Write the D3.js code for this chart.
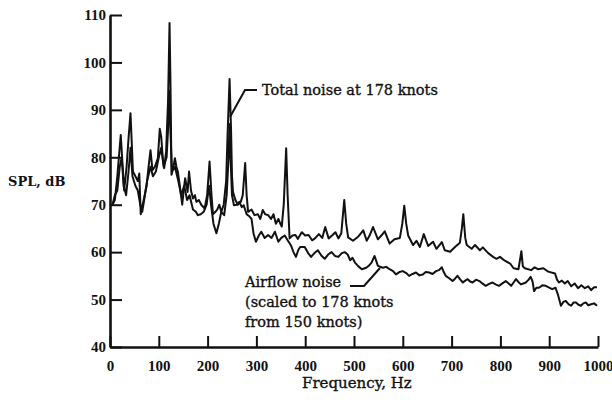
<!DOCTYPE html>
<html><head><meta charset="utf-8">
<script src="https://cdn.jsdelivr.net/npm/d3@7"></script>
<style>
html,body{margin:0;padding:0;background:#fff;}
svg{display:block;}
.tick text{font-family:"Liberation Serif",serif;font-weight:bold;font-size:15px;fill:#111;}
.ann{font-family:"DejaVu Serif",serif;font-size:14.5px;fill:#111;stroke:#111;stroke-width:0.35px;}
</style></head>
<body>
<svg id="chart" width="612" height="402"></svg>
<script>
// Total noise at 178 knots: frequency (Hz) and SPL (dB)
const totalFreq = [5,10,15,22,26,29,34,38,42,45,47,52,57,60,63,67,71,75,79,83,87,92,98,102,105,108,111,115,119,122,124,126,130,133,136,139,143,148,151,154,159,162,166,170,174,177,182,187,194,199,204,208,211,216,220,224,228,233,238,241,245,248,250,252,257,262,268,272,277,280,283,290,296,303,308,313,318,324,330,335,340,345,349,352,356,361,364,368,374,380,385,393,400,407,414,420,428,435,441,448,455,462,468,474,480,484,488,498,509,519,526,532,539,549,556,563,573,583,594,599,603,607,611,621,628,635,643,652,662,669,680,686,697,707,717,721,724,728,731,741,748,758,764,775,785,792,799,809,820,827,837,843,846,850,863,870,877,888,898,912,916,920,926,932,938,945,952,959,966,973,980,986,992,998];
const totalSPL = [70,71,76,84.7,78,73,78,84,89.3,82,77,76,75,76.6,68,70,72,74,78,81.5,77.3,78,79.8,86,84.3,80,77.7,81.2,92,108.3,95,76.3,78,79.8,78,77,74,70,73,75.6,72.7,77,73,71.3,72,70.6,71,70,69.2,72,79.1,72,68,68.5,69,70,68.5,70,75,85,96.5,86,76,72.7,71,70,70.6,72,78.8,72,68.5,69,67.8,68,67,68.9,68,67.8,67,68,66,67,66,65.4,70,81.9,72,62.9,63.5,63.6,62.8,64.2,63.5,63.6,62.5,62.9,63.8,63,65.3,62.9,63.5,64.2,62.9,64,71,66,63.1,62.4,63.3,64.6,62.4,63.5,65.3,62.7,63.5,64.4,61.8,62.7,63,66,69.8,66,63.5,61.5,62.4,61.1,63.8,61.3,62.2,60.7,62.1,60.4,60.1,61.1,62,65,68,63,61.5,60.7,61.5,60.4,61,59.8,59,58.6,59,58.2,57.6,56.6,56.4,60.2,57,56.6,56.2,56.8,56.4,56.6,55.9,55.5,54.2,53.6,54,53.4,53.9,52.8,53.4,52.4,53,52.4,52.8,52,52.6,52.6];

// Airflow noise (scaled to 178 knots from 150 knots)
const airFreq = [5,10,15,20,24,28,33,38,42,46,52,57,62,66,70,76,83,88,94,100,105,110,116,120,122,124,127,133,140,146,152,158,163,170,176,180,186,192,198,203,207,212,218,223,228,234,239,243,245,247,250,254,260,265,270,274,280,286,290,294,299,305,310,317,324,331,338,345,351,358,364,371,376,381,386,390,399,406,412,419,426,433,440,447,454,461,468,475,481,487,492,497,502,509,516,525,531,536,542,549,559,566,573,580,586,593,600,607,613,620,627,634,641,647,654,661,668,674,680,684,688,695,702,707,712,718,723,728,733,738,743,750,757,763,770,777,784,790,797,804,811,817,822,827,832,837,842,847,852,857,862,866,869,874,879,886,893,900,906,913,918,924,929,934,940,945,950,955,960,965,970,975,980,986,992,998];
const airSPL = [70,72,73,78,80,74,72,77,82,76,74,73,70,68.5,71,75,78,76,77,80,82,78,80,88,94,85,77,78,75,72,74,71,72,69,68.5,67.8,68,68.5,70,74,70,66,64,66,68.5,67.8,72,80,87,80,72,69.9,70,70.6,69.5,69.9,68,67.5,67,64,62.2,63.5,64.3,63,63.6,63,64.3,62.2,63,63.5,62.5,61.4,60,59,60.5,61.1,61.1,59.8,59,59.8,60.4,59.3,58.6,59.5,60,59.2,59,59.8,60,59.5,58.3,58.8,57.8,57,56.4,56.7,57.2,57.8,59.2,57.1,56.7,56.9,56.4,56,55.3,55.8,56,55.6,55,55.4,55.7,55.1,55.3,55.8,55.7,55.4,56,56.2,56.8,55.8,55,54.5,53.9,54.4,55,54.2,53.6,54,54.3,53.8,53.6,54.2,53.9,53.4,52.9,53.3,53.6,53.2,52.9,53.4,53.9,53.4,52.9,53.6,54.3,53.7,53.2,53.4,53.6,54.1,54.8,53.8,51.8,52.5,52.5,53,52.9,52.5,52.2,52.5,51,48.7,49.5,49.7,49,48.7,49.4,49.4,48.9,48.7,49.2,49.4,48.8,49,49.2,48.7];

const xTicks = [0,100,200,300,400,500,600,700,800,900,1000];
const yTicks = [40,50,60,70,80,90,100,110];

const svg = d3.select("#chart");
const x = d3.scaleLinear().domain([0,1000]).range([110,598]);
const y = d3.scaleLinear().domain([40,110]).range([347,15]);

const line = d3.line().x(d=>x(d[0])).y(d=>y(d[1]));
const totalData = totalFreq.map((f,i)=>[f,totalSPL[i]]);
const airData = airFreq.map((f,i)=>[f,airSPL[i]]);

svg.append("path").datum(airData).attr("d",line)
  .attr("fill","none").attr("stroke","#111").attr("stroke-width",2).attr("stroke-linejoin","round");
svg.append("path").datum(totalData).attr("d",line)
  .attr("fill","none").attr("stroke","#111").attr("stroke-width",2).attr("stroke-linejoin","round");

const yAxis = d3.axisLeft(y).tickValues(yTicks).tickFormat(d3.format("d"))
  .tickSizeInner(-12).tickSizeOuter(0).tickPadding(4);
const gy = svg.append("g").attr("transform","translate(110,0)").call(yAxis);
gy.select(".domain").attr("stroke","#111").attr("stroke-width",2.6);
gy.selectAll(".tick line").attr("stroke","#111").attr("stroke-width",2);

const xAxis = d3.axisBottom(x).tickValues(xTicks).tickFormat(d3.format("d"))
  .tickSizeInner(-11).tickSizeOuter(0).tickPadding(13);
const gx = svg.append("g").attr("transform","translate(0,347)").call(xAxis);
gx.select(".domain").attr("stroke","#111").attr("stroke-width",2.6);
gx.selectAll(".tick line").attr("stroke","#111").attr("stroke-width",2);

// Annotations
svg.append("text").attr("class","ann").attr("x",8).attr("y",186)
  .style("font-weight","bold").style("font-size","13px").style("stroke-width","0").text("SPL, dB");
svg.append("text").attr("class","ann").attr("x",302).attr("y",388).style("font-size","15px").text("Frequency, Hz");

svg.append("text").attr("class","ann").attr("x",262).attr("y",95).text("Total noise at 178 knots");
svg.append("path").attr("d","M257,90 L245,90 L230,117")
  .attr("fill","none").attr("stroke","#111").attr("stroke-width",2);

const airLabel = ["Airflow noise","(scaled to 178 knots","from 150 knots)"];
svg.append("text").attr("class","ann").selectAll("tspan").data(airLabel).join("tspan")
  .attr("x",245).attr("y",(d,i)=>287+i*20).text(d=>d);
svg.append("path").attr("d","M350,286 L364,286 L380,268")
  .attr("fill","none").attr("stroke","#111").attr("stroke-width",2);
</script>
</body></html>
